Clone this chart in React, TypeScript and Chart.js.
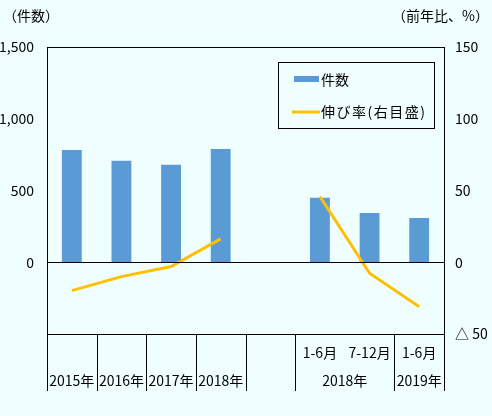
import { useEffect, useRef } from 'react';
import { Chart, registerables, Plugin } from 'chart.js';

Chart.register(...registerables);

const categories = ['2015年', '2016年', '2017年', '2018年', '', '2018年1-6月', '2018年7-12月', '2019年1-6月'];
const periodLabels = ['', '', '', '', '', '1-6月', '7-12月', '1-6月'];
const yearGroups = [
  { label: '2015年', from: 0, to: 0 },
  { label: '2016年', from: 1, to: 1 },
  { label: '2017年', from: 2, to: 2 },
  { label: '2018年', from: 3, to: 3 },
  { label: '2018年', from: 5, to: 6 },
  { label: '2019年', from: 7, to: 7 },
];
// boundaries (slot edges) that get a divider in the label area
const dividers = [0, 1, 2, 3, 4, 5, 7, 8];

const counts = [783, 707, 679, 790, null, 449, 344, 309];
const growth = [-19.8, -10, -3, 16.3, null, 45.8, -7.7, -31];

const BG = '#F0FFFF';
const BAR_COLOR = '#5B9BD5';
const LINE_COLOR = '#FFC000';
const FONT = '"Noto Sans CJK JP", "Noto Sans", sans-serif';

const framePlugin: Plugin = {
  id: 'frame',
  afterDatasetsDraw(chart) {
    const { ctx, chartArea: a, scales } = chart;
    const x = scales.x;
    const y = scales.y;
    const half = (x.getPixelForValue(1) - x.getPixelForValue(0)) / 2;
    ctx.save();
    ctx.strokeStyle = '#000';
    ctx.lineWidth = 1;
    ctx.strokeRect(Math.round(a.left) + 0.5, Math.round(a.top) + 0.5, Math.round(a.width), Math.round(a.height));
    const zy = Math.round(y.getPixelForValue(0)) + 0.5;
    ctx.beginPath();
    ctx.moveTo(a.left, zy);
    ctx.lineTo(a.right, zy);
    const bottom = 391;
    dividers.forEach((b) => {
      const px = Math.round(x.getPixelForValue(b) - half) + 0.5;
      ctx.moveTo(px, a.bottom);
      ctx.lineTo(px, bottom);
    });
    ctx.stroke();

    // category labels
    ctx.fillStyle = '#000';
    ctx.font = `14px ${FONT}`;
    ctx.textAlign = 'center';
    ctx.textBaseline = 'middle';
    periodLabels.forEach((l, i) => {
      if (l) ctx.fillText(l, x.getPixelForValue(i), 353);
    });
    yearGroups.forEach((g) => {
      const cx = (x.getPixelForValue(g.from) + x.getPixelForValue(g.to)) / 2;
      ctx.fillText(g.label, cx, 381);
    });

    // axis titles
    ctx.textAlign = 'left';
    ctx.fillText('（件数）', 3, 16);
    ctx.textAlign = 'right';
    ctx.fillText('（前年比、%）', 489, 16);

    // legend
    ctx.fillStyle = BG;
    ctx.fillRect(278.5, 62.5, 156, 66);
    ctx.strokeRect(278.5, 62.5, 156, 66);
    ctx.fillStyle = BAR_COLOR;
    ctx.fillRect(294, 76, 25, 6);
    ctx.strokeStyle = LINE_COLOR;
    ctx.lineWidth = 3;
    ctx.beginPath();
    ctx.moveTo(292, 112);
    ctx.lineTo(320, 112);
    ctx.stroke();
    ctx.fillStyle = '#000';
    ctx.textAlign = 'left';
    ctx.fillText(chart.data.datasets[1].label as string, 321, 80);
    (ctx as any).letterSpacing = '1.5px';
    ctx.fillText(chart.data.datasets[0].label as string, 321, 112);
    (ctx as any).letterSpacing = '0px';
    ctx.restore();
  },
};

export default function App() {
  const canvasRef = useRef<HTMLCanvasElement>(null);

  useEffect(() => {
    document.body.style.margin = '0';
    document.body.style.background = BG;
    if (!canvasRef.current) return;
    Chart.defaults.font.family = FONT;
    Chart.defaults.font.size = 14;
    Chart.defaults.color = '#000';

    const chart = new Chart(canvasRef.current, {
      type: 'bar',
      data: {
        labels: categories,
        datasets: [
          {
            type: 'line',
            label: '伸び率(右目盛)',
            data: growth,
            yAxisID: 'y1',
            borderColor: LINE_COLOR,
            backgroundColor: LINE_COLOR,
            borderWidth: 3,
            pointRadius: 0,
            tension: 0,
            spanGaps: false,
            order: 1,
          },
          {
            type: 'bar',
            label: '件数',
            data: counts,
            yAxisID: 'y',
            backgroundColor: BAR_COLOR,
            barPercentage: 0.4,
            categoryPercentage: 1,
            order: 2,
          },
        ],
      },
      options: {
        responsive: false,
        animation: false,
        layout: { padding: { top: 47, bottom: 82, left: 0, right: 0 } },
        plugins: {
          legend: { display: false },
          tooltip: { enabled: false },
        },
        scales: {
          x: {
            offset: true,
            grid: { display: false },
            border: { display: false },
            ticks: { display: false },
            afterFit: (s) => {
              s.height = 0;
            },
          },
          y: {
            position: 'left',
            min: -500,
            max: 1500,
            grid: { display: false, drawTicks: false },
            border: { display: false },
            ticks: {
              stepSize: 500,
              padding: 13,
              callback: (v) => (Number(v) < 0 ? '' : Number(v).toLocaleString('en-US')),
            },
            afterFit: (s) => {
              s.width = 47;
            },
          },
          y1: {
            position: 'right',
            min: -50,
            max: 150,
            grid: { display: false, drawTicks: false },
            border: { display: false },
            ticks: {
              stepSize: 50,
              padding: 11,
              callback: (v) => (Number(v) < 0 ? `△ ${Math.abs(Number(v))}` : `${v}`),
            },
            afterFit: (s) => {
              s.width = 48;
            },
          },
        },
      },
      plugins: [framePlugin],
    });

    return () => chart.destroy();
  }, []);

  return (
    <div style={{ width: 492, height: 416, background: BG }}>
      <canvas ref={canvasRef} width={492} height={416} style={{ display: 'block' }} />
    </div>
  );
}
